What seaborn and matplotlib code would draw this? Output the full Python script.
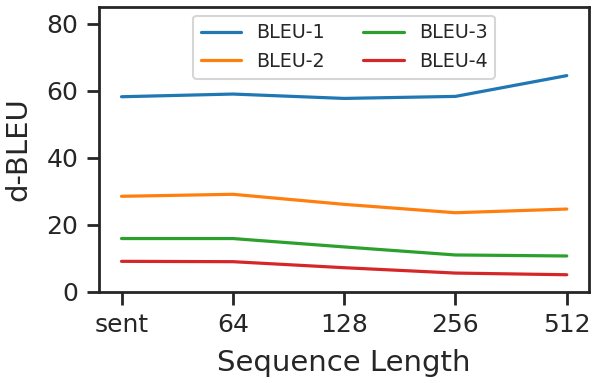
import pandas as pd
import matplotlib
matplotlib.use('Agg')
import matplotlib.pyplot as plt
import seaborn as sns

# values
seq_len = ['sent', '64', '128', '256', '512']
bleu_1 = [58.2, 59.0, 57.7, 58.3, 64.5]
bleu_2 = [28.5, 29.1, 26.1, 23.6, 24.7]
bleu_3 = [15.9, 15.9, 13.4, 11.0, 10.7]
bleu_4 = [9.1, 9.0, 7.2, 5.6, 5.1]

df = pd.DataFrame({'Sequence Length': seq_len,
                   'BLEU-1': bleu_1, 'BLEU-2': bleu_2,
                   'BLEU-3': bleu_3, 'BLEU-4': bleu_4})
long_df = df.melt(id_vars='Sequence Length', var_name='metric', value_name='d-BLEU')

sns.set_theme(style='ticks', context='talk')

fig, ax = plt.subplots(figsize=(5.98, 3.83), dpi=100)
sns.lineplot(data=long_df, x='Sequence Length', y='d-BLEU', hue='metric',
             palette='tab10', linewidth=2.3, sort=False, ax=ax)

ax.set_ylim(0, 85)
ax.set_xlim(-0.2, 4.2)
ax.set_yticks([0, 20, 40, 60, 80])
for s in ax.spines.values():
    s.set_linewidth(2)
ax.tick_params(width=2, length=9, labelsize=18, pad=6)
ax.set_xlabel('Sequence Length', fontsize=21, labelpad=9)
ax.set_ylabel('d-BLEU', fontsize=21, labelpad=10)

ax.legend(title=None, loc='upper center', ncol=2, fontsize=13.8,
          handlelength=2.1, columnspacing=2.0, borderpad=0.4, labelspacing=0.5,
          handletextpad=0.8, bbox_to_anchor=(0.5, 1.003))

fig.subplots_adjust(left=0.166, right=0.985, top=0.982, bottom=0.238)
fig.savefig('out.png', dpi=100)
